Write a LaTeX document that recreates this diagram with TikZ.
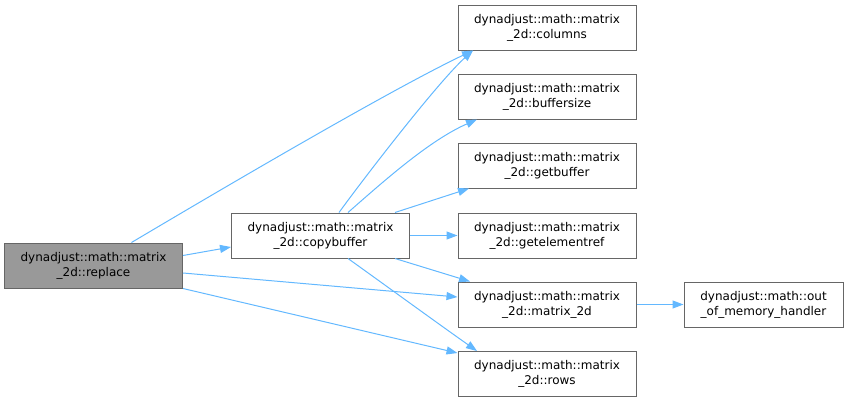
\documentclass[tikz,border=0pt]{standalone}
\usepackage{fontspec}
\setmainfont{DejaVu Sans}
\usetikzlibrary{arrows.meta}
\definecolor{edgec}{HTML}{63B8FF}
\definecolor{boxc}{HTML}{666666}
\definecolor{hl}{HTML}{999999}
\begin{document}
\begin{tikzpicture}[x=1pt,y=-1pt,
  fn/.style={draw=boxc,line width=1pt,fill=white,minimum width=#1,minimum height=45pt,inner sep=0pt,align=center,font=\fontsize{12}{15}\selectfont},
  fn/.default=178pt,
  arr/.style={draw=edgec,line width=1pt,-{Triangle[length=11pt,width=8pt]}}]
\useasboundingbox (0,0) rectangle (849,402);
\node[fn,fill=hl] (rep) at (93.5,265.5) {dynadjust::math::matrix\\\_2d::replace};
\node[fn] (cb) at (320.5,235.5) {dynadjust::math::matrix\\\_2d::copybuffer};
\node[fn] (col) at (547,27.5) {dynadjust::math::matrix\\\_2d::columns};
\node[fn] (bs) at (547,96.5) {dynadjust::math::matrix\\\_2d::buffersize};
\node[fn] (gb) at (547,165.5) {dynadjust::math::matrix\\\_2d::getbuffer};
\node[fn] (ge) at (547,235.5) {dynadjust::math::matrix\\\_2d::getelementref};
\node[fn] (m2) at (547,304.5) {dynadjust::math::matrix\\\_2d::matrix\_2d};
\node[fn] (rw) at (547,374) {dynadjust::math::matrix\\\_2d::rows};
\node[fn=159pt] (oom) at (763.5,304.5) {dynadjust::math::out\\\_of\_memory\_handler};
\coordinate (colin) at ([xshift=-74pt]col.south);
\draw[arr] ([xshift=38pt]rep.north) .. controls (220,190) and (390,90) .. (colin);
\draw[arr] ([yshift=10pt]rep.east) -- ([yshift=-11.5pt]cb.west);
\draw[arr] ([yshift=-7.5pt]rep.east) -- ([yshift=7.5pt]m2.west);
\draw[arr] (rep.south east) -- ([yshift=-2pt]rw.north west);
\draw[arr] ([xshift=18.5pt]cb.north) .. controls (370,170) and (440,80) .. (colin);
\draw[arr] ([xshift=27.5pt]cb.north) .. controls (385,180) and (430,140) .. ([xshift=-70pt]bs.south);
\draw[arr] ([xshift=74.5pt]cb.north) -- ([xshift=-78pt]gb.south);
\draw[arr] (cb.east) -- (ge.west);
\draw[arr] ([xshift=74.5pt]cb.south) -- ([xshift=-77pt]m2.north);
\draw[arr] ([xshift=27.5pt]cb.south) .. controls (385,285) and (440,325) .. ([xshift=-70pt]rw.north);
\draw[arr] (m2.east) -- (oom.west);
\end{tikzpicture}
\end{document}
